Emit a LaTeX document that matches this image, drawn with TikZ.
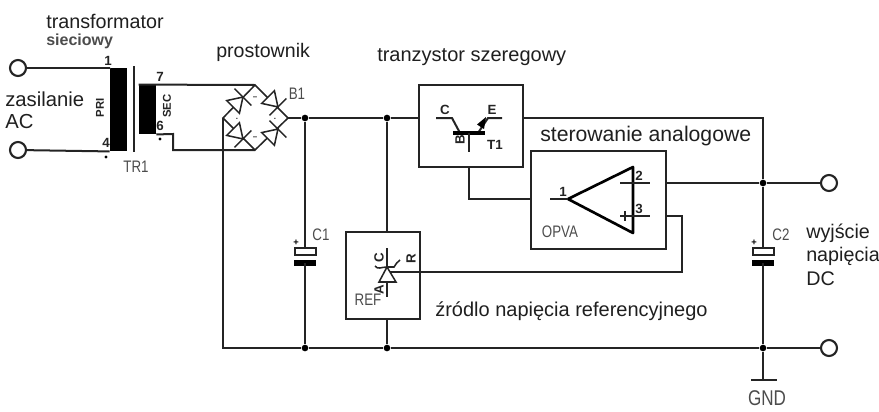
\documentclass[tikz,border=0pt]{standalone}
\usepackage{fontspec}
\setmainfont{Liberation Sans}
\usetikzlibrary{arrows.meta}
\definecolor{wirecol}{gray}{0.14}
\definecolor{partcol}{gray}{0.3}
\newcommand{\narrowtxt}[1]{\scalebox{.8}[1]{#1}}
\begin{document}
\begin{tikzpicture}[x=0.75pt, y=-0.75pt,
		wire/.style={draw=wirecol, line width=1.5pt},
		thin wire/.style={draw=wirecol, line width=1.15pt},
		junc point/.style={circle, fill=black, inner sep=0pt, minimum size=5pt},
		term point/.style={circle, draw=wirecol, line width=1.6pt, fill=white, inner sep=0pt, minimum size=12pt},
		block/.style={draw=wirecol, line width=1.7pt, inner sep=0pt},
		caption/.style={font=\fontsize{14.8}{16}\selectfont, anchor=west, inner sep=0pt, text=black!88},
		part label/.style={font=\fontsize{12.5}{14}\selectfont, inner sep=0pt, text=partcol},
		pin label/.style={font=\bfseries\fontsize{10}{11}\selectfont, inner sep=0pt, text=wirecol}]
			\useasboundingbox (0,0) rectangle (879,411);
			% terminals
			\node[term point] (in top) at (18,68) {};
			\node[term point] (in bot) at (18,150) {};
			\node[term point] (out top) at (829,183) {};
			\node[term point] (out bot) at (829,348) {};
			% transformer
			\node[fill=black, inner sep=0pt, minimum width=12.75pt, minimum height=62.5pt] (pri) at (118.5,109.5) {};
			\node[fill=black, inner sep=0pt, minimum width=12.75pt, minimum height=37pt] (sec) at (147.5,109.5) {};
			\coordinate (core top) at (133.5,66);
			\coordinate (core bot) at (133.5,152);
			\draw[wire] (core top) -- (core bot);
			\draw[wire] (in top) -- (in top -| pri.west) -- (pri.north west);
			\draw[wire] (in bot) -- (pri.south west);
			% bridge
			\coordinate (br top) at (255,85);
			\coordinate (br left) at (223,118);
			\coordinate (br right) at (288,118);
			\coordinate (br bot) at (255,150);
			\coordinate (sec out) at (173,134);
			\draw[thin wire] (br top) -- (br right) -- (br bot) -- (br left) -- cycle;
			\draw[wire] (sec.north west) -- (br top);
			\draw[wire] (sec.south east) -- (sec out) -- (sec out |- br bot) -- (br bot);
			\foreach \x/\y/\a in {238/102/45, 273/102/-45, 238/134/-45, 273/134/45}{
			  \draw[thin wire, fill=white, shift={(\x,\y)}, rotate=\a] (-7,-9) -- (7,0) -- (-7,9) -- cycle;
			  \draw[thin wire, shift={(\x,\y)}, rotate=\a] (7,-12) -- (7,12);
			}
			\foreach \x/\y/\t in {255/98/--, 255/138/--, 237/119/., 275/119/.}{
			  \node[pin label, font=\bfseries\fontsize{6}{7}\selectfont] at (\x,\y) {\t};
			}
			% main rails
			\node[junc point] (j c1 top) at (305,118) {};
			\node[junc point] (j ref top) at (387,118) {};
			\node[junc point] (j out top) at (763,183) {};
			\node[junc point] (j c1 bot) at (305,348) {};
			\node[junc point] (j ref bot) at (387,348) {};
			\node[junc point] (j out bot) at (763,348) {};
			\node[block, minimum width=78pt, minimum height=61.5pt] (t box) at (471,126) {};
			\node[block, minimum width=101pt, minimum height=73.5pt] (op box) at (598.5,200) {};
			\node[block, minimum width=55.5pt, minimum height=65.25pt] (ref box) at (383,275.5) {};
			\coordinate (gnd) at (763,380);
			\coordinate (gnd left) at (751,380);
			\coordinate (gnd right) at (777,380);
			\coordinate (out corner) at (763,118);
			\draw[wire] (br right) -- (j c1 top) -- (j ref top) -- (j ref top -| t box.west);
			\draw[wire] (j ref top -| t box.east) -- (out corner) -- (j out top);
			\draw[wire] (op box.east |- j out top) -- (j out top) -- (out top);
			\draw[wire] (br left) -- (br left |- j c1 bot) -- (j c1 bot) -- (j ref bot) -- (j out bot) -- (out bot);
			\draw[wire] (j ref top) -- (j ref top |- ref box.north);
			\draw[wire] (j ref top |- ref box.south) -- (j ref bot);
			\draw[wire] (j out bot) -- (gnd);
			\draw[wire] (gnd left) -- (gnd right);
			% capacitors
			\foreach \n/\x/\l in {1/305/C1, 2/763/C2}{
			  \coordinate (c\n a) at (\x,248);
			  \coordinate (c\n b) at (\x,263);
			  \draw[wire, fill=white] (\x-10,248) rectangle (\x+11,255);
			  \fill[black] (\x-11,260) rectangle (\x+11,266);
			  \node[font=\bfseries\fontsize{7}{8}\selectfont, inner sep=0pt] (c\n plus) at (\x-9,243) {+};
			  \node[part label] (c\n label) at (\x+\n*2+14,235) {\narrowtxt{\l}};
			}
			\draw[wire] (j c1 top) -- (c1a);
			\draw[wire] (c1b) -- (j c1 bot);
			\draw[wire] (j out top) -- (c2a);
			\draw[wire] (c2b) -- (j out bot);
			% transistor
			\coordinate (t c) at (436,118);
			\coordinate (t e) at (502,118);
			\coordinate (t b) at (469,152);
			\draw[wire] (t c) -- (452,118) -- (460,133);
			\draw[wire] (t e) -- (488,118) -- (478,133);
			\draw[black, line width=3.2pt] (453,133) -- (485,133);
			\draw[wire] (469,133) -- (t b);
			\fill[black] (486,117) -- (477,124.5) -- (484,129) -- cycle;
			\draw[wire] (469,167) -- (469,199) -- (op box.west |- 0,199);
			% opamp
			\draw[draw=black, line width=2pt, line join=round] (568,199) -- (633,167) -- (633,233) -- cycle;
			\draw[thin wire] (550,199) -- (568,199);
			\draw[thin wire] (620,183) -- (650,183);
			\draw[thin wire] (620,216) -- (650,216);
			\draw[thin wire] (625,211) -- (625,221);
			\coordinate (fb up) at (682,216);
			\coordinate (fb low) at (682,272);
			\draw[wire] (op box.east |- fb up) -- (fb up) -- (fb low) -- (389,272);
			% reference
			\draw[thin wire] (387,248) -- (387,297);
			\draw[thin wire, fill=white] (387,267) -- (396,282) -- (379,282) -- cycle;
			\draw[thin wire] (375,266) .. controls (378,270) and (381,267) .. (387,267) -- (394,267) .. controls (396,264) and (397,262) .. (400,260);
			% labels
			\node[caption] (cap tr) at (46,21) {transformator};
			\node[caption, font=\bfseries\fontsize{12}{13}\selectfont, text=black!70] (cap net) at (46,41) {sieciowy};
			\node[caption, font=\fontsize{14.7}{16}\selectfont] (cap br) at (216,52) {prostownik};
			\node[caption, font=\fontsize{15.2}{16}\selectfont] (cap ac1) at (5,99) {zasilanie};
			\node[caption, font=\fontsize{15.2}{16}\selectfont] (cap ac2) at (5,122) {AC};
			\node[caption, font=\fontsize{15}{16}\selectfont] (cap t) at (377,57) {tranzystor szeregowy};
			\node[caption, font=\fontsize{15.9}{17}\selectfont] (cap op) at (540,136) {sterowanie analogowe};
			\node[caption, font=\fontsize{15}{16}\selectfont] (cap ref) at (435,311) {źródlo napięcia referencyjnego};
			\node[caption] (cap o1) at (806,233) {wyjście};
			\node[caption] (cap o2) at (806,256) {napięcia};
			\node[caption] (cap o3) at (806,279) {DC};
			\node[part label] (l b1) at (297,94) {\narrowtxt{B1}};
			\node[part label] (l tr1) at (136,167) {\narrowtxt{TR1}};
			\node[part label] (l opva) at (560,232) {\narrowtxt{OPVA}};
			\node[part label] (l ref) at (368,300) {\narrowtxt{REF}};
			\node[part label, font=\fontsize{16}{17}\selectfont] (l gnd) at (767,398) {\narrowtxt{GND}};
			\node[pin label, rotate=90, font=\bfseries\fontsize{8.5}{9}\selectfont] (l pri) at (100,108) {PRI};
			\node[pin label, rotate=90, font=\bfseries\fontsize{8.5}{9}\selectfont] (l sec) at (167,106) {SEC};
			\foreach \x/\y/\t in {108/61/1, 106/143/4, 160/77/7, 160/126/6, 445/110/C, 492/110/E, 495/145/T1, 563/192/1, 639/176/2, 639/209/3}{
			  \node[pin label] at (\x,\y) {\t};
			}
			\foreach \x/\y/\t in {460/140/B, 379/258/C, 379/290/A, 411/259/R}{
			  \node[pin label, rotate=90] at (\x,\y) {\t};
			}
			\foreach \x/\y in {106/157, 160/139}{
			  \fill[black] (\x,\y) circle (1.3pt);
			}
		\end{tikzpicture}
\end{document}
